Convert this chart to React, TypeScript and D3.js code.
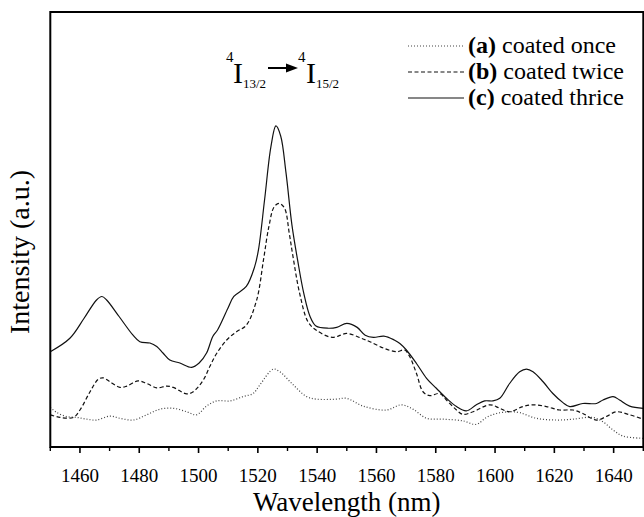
import React from "react";
import * as d3 from "d3";

// Wavelength ticks (nm)
const majorTicks = [1460, 1480, 1500, 1520, 1540, 1560, 1580, 1600, 1620, 1640];
const minorTicks = [1450, 1470, 1490, 1510, 1530, 1550, 1570, 1590, 1610, 1630, 1650];

// (a) coated once — [wavelength nm, intensity a.u.]
const seriesA: [number, number][] = [
  [1450, 9.1], [1452, 8.0], [1455.5, 7.0], [1458.9, 6.8], [1462.3, 6.4], [1465.6, 6.2],
  [1470.1, 7.1], [1473.5, 6.6], [1478, 6.2], [1482.5, 7.4], [1487, 8.7], [1491.5, 8.9],
  [1496, 8.1], [1499.3, 7.4], [1502.7, 9.4], [1506.1, 10.6], [1510.6, 10.6], [1515, 11.6],
  [1518.4, 12.3], [1520.7, 14.3], [1525.2, 17.9], [1527.4, 17.3], [1531.9, 14.3],
  [1536.4, 11.6], [1539.8, 11.0], [1546.5, 11.0], [1549.9, 11.2], [1555.5, 9.4],
  [1563.4, 8.5], [1568.4, 9.7], [1572.3, 8.7], [1576.9, 6.6], [1582.5, 6.4], [1589.2, 6.0],
  [1593.7, 5.2], [1597.1, 6.8], [1600.5, 7.7], [1604.9, 8.1], [1608.3, 7.9], [1613.9, 6.6],
  [1620.7, 6.2], [1626.3, 6.4], [1633, 6.8], [1636.4, 5.8], [1639.8, 3.9], [1643.2, 2.5],
  [1650, 2.0],
];

// (b) coated twice
const seriesB: [number, number][] = [
  [1450, 7.4], [1453.3, 6.8], [1457.8, 6.8], [1460, 8.5], [1463.4, 12.7], [1466.2, 15.6],
  [1467.8, 15.9], [1470.1, 15.0], [1473.5, 13.7], [1475.8, 14.0], [1479.6, 15.2],
  [1482.5, 14.6], [1485.9, 13.6], [1489.2, 14.0], [1491.5, 13.7], [1496, 12.2],
  [1498.2, 12.7], [1501.6, 15.4], [1503.8, 18.5], [1506.1, 21.5], [1509.5, 24.6],
  [1512.8, 26.5], [1516.1, 28.0], [1519.6, 33.8], [1521.9, 43.0], [1523.7, 50.6],
  [1525.5, 55.2], [1527.2, 56.0], [1529, 54.9], [1530.6, 49.1], [1531.8, 44.0],
  [1534.1, 35.3], [1536.9, 28.8], [1539.6, 26.9], [1545.1, 25.2], [1550, 26.1],
  [1554.9, 25.0], [1557.8, 24.2], [1562.5, 22.7], [1566.8, 21.9], [1569.5, 22.3],
  [1571.2, 20.8], [1573.5, 16.9], [1575.7, 12.7], [1578, 11.8], [1581.3, 12.3],
  [1583.6, 10.8], [1587, 8.5], [1589.2, 7.5], [1592.6, 8.1], [1598.2, 9.7], [1601.6, 8.9],
  [1604.9, 8.1], [1609.4, 9.3], [1612.8, 9.7], [1617.3, 9.3], [1621.8, 8.5], [1626.3, 8.5],
  [1629.6, 7.7], [1634.2, 6.2], [1637.5, 7.0], [1640.9, 8.1], [1645.4, 7.4], [1650, 6.4],
];

// (c) coated thrice
const seriesC: [number, number][] = [
  [1450, 21.9], [1456.6, 25.0], [1461.4, 29.6], [1465.6, 33.8], [1467.4, 34.6],
  [1469.0, 33.8], [1473.2, 30.0], [1477.9, 25.7], [1480.2, 24.2], [1483.6, 23.9],
  [1485.9, 23.1], [1488.0, 21.6], [1490.3, 20.0], [1493.7, 19.3], [1497.7, 18.3],
  [1500.2, 19.3], [1502.7, 21.6], [1504.8, 25.4], [1506.4, 26.9], [1509.9, 31.9],
  [1511.9, 34.6], [1516.1, 36.9], [1518.9, 41.4], [1520.2, 45.3], [1522.3, 57.0],
  [1524.4, 69.0], [1526.1, 73.8], [1527.7, 71.5], [1529.5, 63.0], [1531.5, 51.0],
  [1533.4, 43.0], [1535.5, 35.3], [1537.6, 30.0], [1539.6, 27.8], [1543.8, 27.3],
  [1546.6, 27.5], [1550.0, 28.4], [1553.5, 27.5], [1556.2, 25.7], [1559.0, 25.2],
  [1562.5, 25.5], [1566.0, 24.6], [1567.9, 23.8], [1570.1, 22.3], [1573.5, 19.2],
  [1576.9, 15.8], [1580.2, 13.5], [1583.6, 11.2], [1587.0, 9.3], [1590.3, 8.3],
  [1593.7, 9.7], [1596.5, 10.6], [1599.3, 10.6], [1601.6, 11.2], [1604.9, 14.6],
  [1608.3, 17.3], [1610.6, 17.9], [1612.8, 17.3], [1616.2, 15.0], [1619.5, 12.3],
  [1622.9, 10.2], [1625.2, 9.3], [1629.6, 10.0], [1634.2, 10.0], [1636.4, 10.8],
  [1639.8, 11.6], [1642.0, 10.8], [1645.4, 9.4], [1650, 8.9],
];

const legendKeys = ["a", "b", "c"];
const legendLabels = ["coated once", "coated twice", "coated thrice"];

const FONT = '"Liberation Serif", "Times New Roman", Times, serif';

export default function App() {
  const W = 644, H = 517;
  const left = 50.3, right = 643.3, top = 12, bottom = 447;
  const x = d3.scaleLinear().domain([1450, 1650]).range([left, right]);
  const y = d3.scaleLinear().domain([0, 100]).range([bottom, top]);
  const line = d3
    .line<[number, number]>()
    .x((d) => x(d[0]))
    .y((d) => y(d[1]))
    .curve(d3.curveCatmullRom.alpha(0.5));

  const styles = [
    { dash: "1,2", color: "#444", width: 1.2 },
    { dash: "4,2.5", color: "#111", width: 1.2 },
    { dash: "none", color: "#111", width: 1.2 },
  ];
  const series = [seriesA, seriesB, seriesC];

  const legendY = [46, 72, 98];
  const tx = { fontFamily: FONT };

  return (
    <svg
      width={W}
      height={H}
      style={{ position: "absolute", left: 0, top: 0, background: "#fff", fontFamily: FONT }}
    >
      <defs>
        <clipPath id="plot">
          <rect x={left} y={top} width={right - left} height={bottom - top} />
        </clipPath>
      </defs>
      <g clipPath="url(#plot)">
        {series.map((s, i) => (
          <path
            key={i}
            d={line(s) || ""}
            fill="none"
            stroke={styles[i].color}
            strokeWidth={styles[i].width}
            strokeDasharray={styles[i].dash}
          />
        ))}
      </g>
      {/* frame */}
      <rect
        x={left}
        y={top}
        width={right - left}
        height={bottom - top}
        fill="none"
        stroke="#000"
        strokeWidth={2}
      />
      {/* ticks */}
      {majorTicks.map((t) => (
        <g key={t}>
          <line x1={x(t)} x2={x(t)} y1={bottom} y2={bottom + 6} stroke="#000" strokeWidth={1.6} />
          <text x={x(t)} y={482} textAnchor="middle" fontSize={19} style={tx}>
            {t}
          </text>
        </g>
      ))}
      {minorTicks.map((t) => (
        <line key={t} x1={x(t)} x2={x(t)} y1={bottom} y2={bottom + 4} stroke="#000" strokeWidth={1.4} />
      ))}
      <text x={(left + right) / 2} y={511} textAnchor="middle" fontSize={27} style={tx}>
        Wavelength (nm)
      </text>
      <text
        transform={`translate(29, 252) rotate(-90)`}
        textAnchor="middle"
        fontSize={28}
        style={tx}
      >
        Intensity (a.u.)
      </text>

      {/* legend */}
      {legendKeys.map((k, i) => (
        <g key={k}>
          <line
            x1={408}
            x2={464}
            y1={legendY[i]}
            y2={legendY[i]}
            stroke={styles[i].color}
            strokeWidth={1.2}
            strokeDasharray={styles[i].dash}
          />
          <text x={468} y={legendY[i] + 7} fontSize={24} style={tx}>
            <tspan fontWeight="bold">({k})</tspan> {legendLabels[i]}
          </text>
        </g>
      ))}

      {/* transition annotation */}
      <g style={tx}>
        <text x={226} y={62} fontSize={15} style={tx}>4</text>
        <text x={233} y={83} fontSize={30} style={tx}>I</text>
        <text x={243} y={88} fontSize={13} style={tx}>13/2</text>
        <line x1={268} x2={290} y1={68} y2={68} stroke="#000" strokeWidth={2} />
        <path d="M 298 68 L 286 63.5 L 286 72.5 Z" fill="#000" />
        <text x={298} y={62} fontSize={15} style={tx}>4</text>
        <text x={306} y={83} fontSize={30} style={tx}>I</text>
        <text x={316} y={88} fontSize={13} style={tx}>15/2</text>
      </g>
    </svg>
  );
}
